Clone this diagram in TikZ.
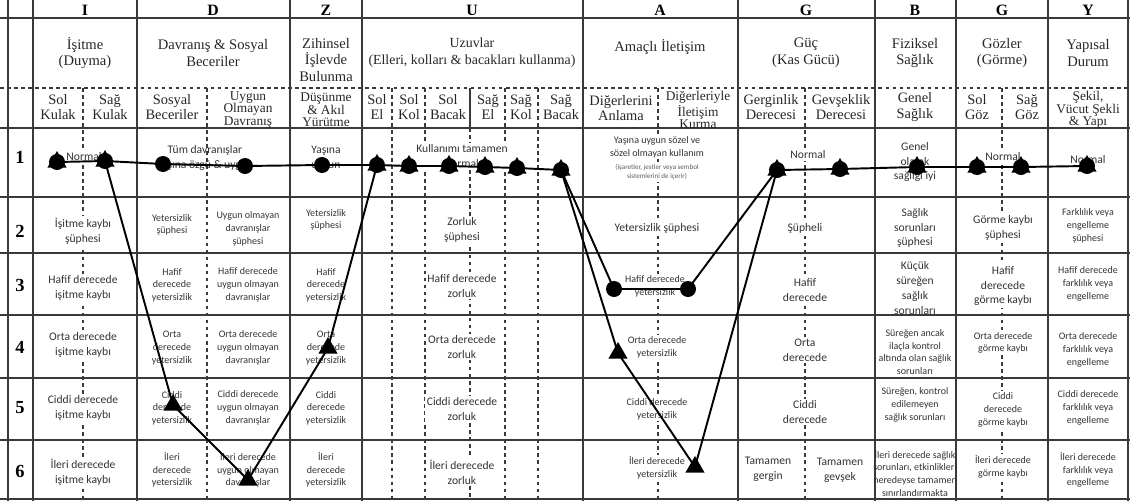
\documentclass[tikz,border=0pt]{standalone}
\usepackage{fontspec}
\setmainfont{Liberation Serif}
\newfontfamily\bodyfont{Carlito}
\usetikzlibrary{shapes.geometric}
\definecolor{txtc}{HTML}{333333}
\definecolor{gridc}{HTML}{3A3A3A}
\tikzset{
 lettr/.style={font=\fontsize{9}{10}\selectfont\bfseries, inner sep=0pt},
 rownum/.style={font=\fontsize{10.5}{11}\selectfont\bfseries, inner sep=0pt},
 hdr/.style={font=\fontsize{8.3}{9.6}\selectfont, align=center, inner sep=0pt, text=black!85},
 sub/.style={font=\fontsize{8.2}{8.6}\selectfont, align=center, inner sep=0pt, text=black!85},
 subt/.style={font=\fontsize{7.6}{7.1}\selectfont, align=center, inner sep=0pt, text=black!85},
 bt/.style={font=\bodyfont\fontsize{6.6}{8.5}\selectfont, align=center, text=txtc, inner sep=1pt},
 st/.style={font=\bodyfont\fontsize{5.7}{7.2}\selectfont, align=center, text=txtc, inner sep=1pt},
 tt/.style={font=\bodyfont\fontsize{4}{5.5}\selectfont, align=center, text=txtc!80, inner sep=1pt},
 wf/.style={fill=white},
 cmark/.style={circle, fill=black, inner sep=0pt, minimum size=0.32cm},
 tmark/.style={regular polygon, regular polygon sides=3, fill=black, inner sep=0pt, minimum size=0.44cm},
 conn/.style={line width=1.1pt, black},
 solidl/.style={gridc, line width=0.7pt},
 dashl/.style={gridc, line width=0.6pt, dash pattern=on 2pt off 2pt},
}
\begin{document}
\begin{tikzpicture}[x=0.02cm,y=-0.02cm]
\useasboundingbox (0,0) rectangle (1130,501);
% grid
\foreach \y in {18,128,197,253,315,378,440,499} \draw[solidl] (0,\y) -- (1130,\y);
\draw[dashl] (0,88) -- (1130,88);
\foreach \x in {8,33,137,290,362,583,738,875,956,1048,1128} \draw[solidl] (\x,0) -- (\x,501);
\foreach \x in {83,207,392,425,505,538,658,805,1002} \draw[dashl] (\x,88) -- (\x,499);
\draw[solidl] (470,88) -- (470,128);
\draw[dashl] (470,128) -- (470,499);
% letters
\node[lettr] (lI) at (85,10) {I};
\node[lettr] (lD) at (213,10) {D};
\node[lettr] (lZ) at (326,10) {Z};
\node[lettr] (lU) at (472,10) {U};
\node[lettr] (lA) at (660,10) {A};
\node[lettr] (lG) at (806,10) {G};
\node[lettr] (lB) at (915,10) {B};
\node[lettr] (lG2) at (1002,10) {G};
\node[lettr] (lY) at (1088,10) {Y};
% titles
\node[hdr] (hI) at (85,53) {İşitme\\(Duyma)};
\node[hdr] (hD) at (213,53) {Davranış \& Sosyal\\Beceriler};
\node[hdr] (hZ) at (326,60) {Zihinsel\\İşlevde\\Bulunma};
\node[hdr, font=\fontsize{7.9}{9.6}\selectfont] (hU) at (472,53) {Uzuvlar\\(Elleri, kolları \& bacakları kullanma)};
\node[hdr] (hA) at (660,47) {Amaçlı İletişim};
\node[hdr] (hG) at (806,53) {Güç\\(Kas Gücü)};
\node[hdr] (hB) at (915,53) {Fiziksel\\Sağlık};
\node[hdr] (hG2) at (1002,53) {Gözler\\(Görme)};
\node[hdr] (hY) at (1088,53) {Yapısal\\Durum};
% sub headers
\node[sub] (s1) at (58,107) {Sol\\Kulak};
\node[sub] (s2) at (110,107) {Sağ\\Kulak};
\node[sub] (s3) at (172,107) {Sosyal\\Beceriler};
\node[subt] (s4) at (248,110) {Uygun\\Olmayan\\Davranış};
\node[subt] (s5) at (326,110) {Düşünme\\\& Akıl\\Yürütme};
\node[sub] (s6) at (377,107) {Sol\\El};
\node[sub] (s7) at (409,107) {Sol\\Kol};
\node[sub] (s8) at (448,107) {Sol\\Bacak};
\node[sub] (s9) at (488,107) {Sağ\\El};
\node[sub] (s10) at (521,107) {Sağ\\Kol};
\node[sub] (s11) at (561,107) {Sağ\\Bacak};
\node[sub] (s12) at (621,108) {Diğerlerini\\Anlama};
\node[subt] (s13) at (698,110) {Diğerleriyle\\İletişim\\Kurma};
\node[sub] (s14) at (771,107) {Gerginlik\\Derecesi};
\node[sub] (s15) at (841,107) {Gevşeklik\\Derecesi};
\node[sub] (s16) at (915,107) {Genel\\Sağlık};
\node[sub] (s17) at (977,107) {Sol\\Göz};
\node[sub] (s18) at (1027,107) {Sağ\\Göz};
\node[subt] (s19) at (1088,110) {Şekil,\\Vücut Şekli\\\& Yapı};
% row numbers
\node[rownum] (r1) at (20,157) {1};
\node[rownum] (r2) at (20,231) {2};
\node[rownum] (r3) at (20,285) {3};
\node[rownum] (r4) at (20,347) {4};
\node[rownum] (r5) at (20,408) {5};
\node[rownum] (r6) at (20,471) {6};
% row 1
\node[bt,wf] (a1) at (84,157) {Normal};
\node[bt] (b1) at (205,158) {Tüm davranışlar\\yaşına özgü \& uygun};
\node[bt] (c1t) at (326,158) {Yaşına\\uygun};
\node[bt,wf] (d1) at (462,156) {Kullanımı tamamen\\normal};
\node[st,wf] (e1) at (657,147) {Yaşına uygun sözel ve\\sözel olmayan kullanım};
\node[tt,wf] (e1b) at (657,172) {(işaretler, jestler veya sembol\\sistemlerini de içerir)};
\node[bt,wf] (f1) at (808,155) {Normal};
\node[bt] (g1) at (915,162) {Genel\\olarak\\sağlığı iyi};
\node[bt,wf] (h1) at (1003,157) {Normal};
\node[bt] (i1) at (1088,160) {Normal};
% row 2
\node[bt,wf] (a2) at (83,231) {İşitme kaybı\\şüphesi};
\node[st] (b2) at (172,225) {Yetersizlik\\şüphesi};
\node[st] (b2b) at (248,229) {Uygun olmayan\\davranışlar\\şüphesi};
\node[st] (c2) at (326,220) {Yetersizlik\\şüphesi};
\node[bt,wf] (d2) at (462,230) {Zorluk\\şüphesi};
\node[bt,wf] (e2) at (657,228) {Yetersizlik şüphesi};
\node[bt,wf] (f2) at (805,228) {Şüpheli};
\node[bt] (g2) at (915,228) {Sağlık\\sorunları\\şüphesi};
\node[bt,wf] (h2) at (1003,228) {Görme kaybı\\şüphesi};
\node[st] (i2) at (1088,226) {Farklılık veya\\engelleme\\şüphesi};
% row 3
\node[bt,wf] (a3) at (83,288) {Hafif derecede\\işitme kaybı};
\node[st] (b3) at (172,285) {Hafif\\derecede\\yetersizlik};
\node[st] (b3b) at (248,285) {Hafif derecede\\uygun olmayan\\davranışlar};
\node[st] (c3) at (326,285) {Hafif\\derecede\\yetersizlik};
\node[bt,wf] (d3) at (462,286) {Hafif derecede\\zorluk};
\node[st,wf] (e3) at (655,286) {Hafif derecede\\yetersizlik};
\node[bt,wf] (f3) at (805,290) {Hafif\\derecede};
\node[bt] (g3) at (915,288) {Küçük\\süreğen\\sağlık\\sorunları};
\node[bt,wf] (h3) at (1003,286) {Hafif\\derecede\\görme kaybı};
\node[st] (i3) at (1088,284) {Hafif derecede\\farklılık veya\\engelleme};
% row 4
\node[bt,wf] (a4) at (83,345) {Orta derecede\\işitme kaybı};
\node[st] (b4) at (172,348) {Orta\\derecede\\yetersizlik};
\node[st] (b4b) at (248,348) {Orta derecede\\uygun olmayan\\davranışlar};
\node[st] (c4) at (326,348) {Orta\\derecede\\yetersizlik};
\node[bt,wf] (d4) at (462,347) {Orta derecede\\zorluk};
\node[st,wf] (e4) at (657,347) {Orta derecede\\yetersizlik};
\node[bt,wf] (f4) at (805,350) {Orta\\derecede};
\node[st] (g4) at (915,352) {Süreğen ancak\\ilaçla kontrol\\altında olan sağlık\\sorunları};
\node[st,wf] (h4) at (1003,343) {Orta derecede\\görme kaybı};
\node[st] (i4) at (1088,350) {Orta derecede\\farklılık veya\\engelleme};
% row 5
\node[bt,wf] (a5) at (83,408) {Ciddi derecede\\işitme kaybı};
\node[st] (b5) at (172,408) {Ciddi\\derecede\\yetersizlik};
\node[st] (b5b) at (248,408) {Ciddi derecede\\uygun olmayan\\davranışlar};
\node[st] (c5) at (326,408) {Ciddi\\derecede\\yetersizlik};
\node[bt,wf] (d5) at (462,409) {Ciddi derecede\\zorluk};
\node[st,wf] (e5) at (657,409) {Ciddi derecede\\yetersizlik};
\node[bt,wf] (f5) at (805,412) {Ciddi\\derecede};
\node[st] (g5) at (915,405) {Süreğen, kontrol\\edilemeyen\\sağlık sorunları};
\node[st,wf] (h5) at (1003,410) {Ciddi\\derecede\\görme kaybı};
\node[st] (i5) at (1088,408) {Ciddi derecede\\farklılık veya\\engelleme};
% row 6
\node[bt,wf] (a6) at (83,472) {İleri derecede\\işitme kaybı};
\node[st] (b6) at (172,470) {İleri\\derecede\\yetersizlik};
\node[st] (b6b) at (248,470) {İleri derecede\\uygun olmayan\\davranışlar};
\node[st] (c6) at (326,470) {İleri\\derecede\\yetersizlik};
\node[bt,wf] (d6) at (462,472) {İleri derecede\\zorluk};
\node[st,wf] (e6) at (657,468) {İleri derecede\\yetersizlik};
\node[bt] (f6) at (768,469) {Tamamen\\gergin};
\node[bt] (f6b) at (840,470) {Tamamen\\gevşek};
\node[st] (g6) at (915,473) {İleri derecede sağlık\\sorunları, etkinlikleri\\neredeyse tamamen\\sınırlandırmakta};
\node[st,wf] (h6) at (1003,467) {İleri derecede\\görme kaybı};
\node[st] (i6) at (1088,470) {İleri derecede\\farklılık veya\\engelleme};
% marker positions
\coordinate (p1) at (57,162);
\coordinate (p2) at (105,161);
\coordinate (p6) at (377,165);
\coordinate (p7) at (409,166);
\coordinate (p8) at (449,166);
\coordinate (p9) at (485,167);
\coordinate (p10) at (517,168);
\coordinate (p11) at (561,170);
\coordinate (p14) at (777,170);
\coordinate (p15) at (840,169);
\coordinate (p16) at (917,167);
\coordinate (p17) at (977,167);
\coordinate (p18) at (1021,167);
\coordinate (p19) at (1087,166);
\coordinate (q3) at (163,164);
\coordinate (q4) at (245,166);
\coordinate (q5) at (322,165);
\coordinate (q12) at (614,289);
\coordinate (q13) at (688,289);
\coordinate (u3) at (173,405);
\coordinate (u4) at (248,480);
\coordinate (u5) at (328,348);
\coordinate (u12) at (618,353);
\coordinate (u13) at (695,467);
% connectors
\draw[conn] (p1) -- (p2) -- (q3) -- (q4) -- (q5) -- (p6) -- (p7) -- (p8) -- (p9) -- (p10) -- (p11) -- (q12) -- (q13) -- (p14) -- (p15) -- (p16) -- (p17) -- (p18) -- (p19);
\draw[conn] (p2) -- (u3) -- (u4) -- (u5) -- (p6);
\draw[conn] (p11) -- (u12) -- (u13) -- (p14);
% markers
\foreach \p in {p1,p2,p6,p7,p8,p9,p10,p11,p14,p15,p16,p17,p18,p19,u3,u4,u5,u12,u13}
  \node[tmark] (t\p) at (\p) {};
\foreach \p in {p1,p2,p6,p7,p8,p9,p10,p11,p14,p15,p16,p17,p18,p19,q3,q4,q5,q12,q13}
  \node[cmark] (c\p) at (\p) {};
\end{tikzpicture}
\end{document}
